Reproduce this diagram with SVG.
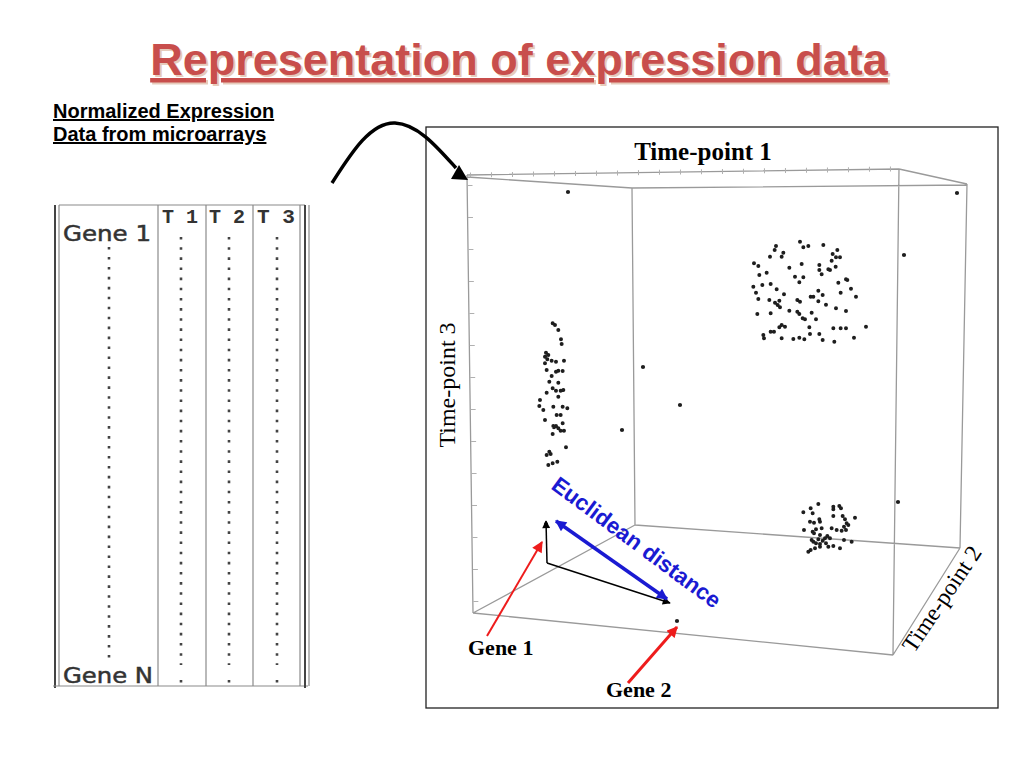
<svg xmlns="http://www.w3.org/2000/svg" width="1024" height="768" viewBox="0 0 1024 768">
<style>
.title{font-family:"Liberation Sans",Arial,sans-serif;font-weight:bold;font-size:45px;text-decoration:underline}
.sub{font-family:"Liberation Sans",Arial,sans-serif;font-weight:bold;font-size:20px;text-decoration:underline;fill:#000}
.tbl{font-family:"DejaVu Sans",sans-serif;font-size:21px;fill:#333;stroke:#333;stroke-width:0.5}
.hdr{font-family:"Liberation Mono","Courier New",monospace;font-size:21px;font-weight:bold;fill:#333}
.serif{font-family:"Liberation Serif","Times New Roman",serif;fill:#000}
.bold{font-weight:bold}
.box{stroke:#9a9a9a;stroke-width:1.3;fill:none}
.tick{stroke:#b0b0b0;fill:none}
.dots{stroke:#1e1e1e;stroke-linecap:round;fill:none}
.col{stroke:#8a8a8a;stroke-width:1.2}
.vdots{stroke:#444;stroke-width:2.6}
</style>
<defs>
<marker id="hRed" viewBox="0 0 10 10" refX="9" refY="5" markerWidth="13" markerHeight="11" markerUnits="userSpaceOnUse" orient="auto"><path d="M0,0 L10,5 L0,10z" fill="#ee1c1c"/></marker>
<marker id="hBlk" viewBox="0 0 10 10" refX="9" refY="5" markerWidth="9" markerHeight="8" markerUnits="userSpaceOnUse" orient="auto"><path d="M0,0 L10,5 L0,10z" fill="#000"/></marker>
<marker id="hBlue" viewBox="0 0 10 10" refX="9" refY="5" markerWidth="13" markerHeight="11" markerUnits="userSpaceOnUse" orient="auto-start-reverse"><path d="M0,0 L10,5 L0,10z" fill="#1a1ad2"/></marker>
</defs>
<rect width="1024" height="768" fill="#fff"/>

<g id="title">
<text class="title" x="521" y="77" text-anchor="middle" fill="#e6cbbb">Representation of expression data</text>
<text class="title" x="519" y="75" text-anchor="middle" fill="#c84e4c">Representation of expression data</text>
</g>

<g id="subtitle">
<text class="sub" x="53" y="118">Normalized Expression</text>
<text class="sub" x="53" y="141">Data from microarrays</text>
</g>

<g id="table">
<line x1="55" y1="205" x2="55" y2="688" stroke="#444" stroke-width="2"/>
<line x1="59" y1="205" x2="59" y2="686" class="col"/>
<line x1="59" y1="205" x2="305" y2="205" class="col"/>
<line x1="53" y1="686" x2="308" y2="686" class="col"/>
<line x1="158" y1="205" x2="158" y2="686" class="col"/>
<line x1="206" y1="205" x2="206" y2="686" class="col"/>
<line x1="253" y1="205" x2="253" y2="686" class="col"/>
<line x1="300" y1="205" x2="300" y2="686" class="col"/>
<line x1="305" y1="205" x2="305" y2="688" stroke="#444" stroke-width="2"/>
<line x1="309" y1="205" x2="309" y2="686" class="col"/>
<text class="hdr" x="162" y="223" textLength="36" lengthAdjust="spacingAndGlyphs">T 1</text>
<text class="hdr" x="209" y="223" textLength="36" lengthAdjust="spacingAndGlyphs">T 2</text>
<text class="hdr" x="257" y="223" textLength="38" lengthAdjust="spacingAndGlyphs">T 3</text>
<text class="tbl" x="63" y="241" textLength="88" lengthAdjust="spacingAndGlyphs">Gene 1</text>
<text class="tbl" x="63" y="683" textLength="90" lengthAdjust="spacingAndGlyphs">Gene N</text>
<line x1="109" y1="247" x2="109" y2="665" class="vdots" stroke-dasharray="2.6 7.35"/>
<line x1="181" y1="237" x2="181" y2="665" class="vdots" stroke-dasharray="2.6 7.55"/>
<line x1="229" y1="237" x2="229" y2="665" class="vdots" stroke-dasharray="2.6 7.55"/>
<line x1="277" y1="237" x2="277" y2="665" class="vdots" stroke-dasharray="2.6 7.55"/>
<path class="vdots" d="M181,680v2.6M229,680v2.6M277,680v2.6"/>
</g>

<g id="plot">
<rect x="426" y="127" width="572" height="581" fill="none" stroke="#222" stroke-width="1.3"/>
<g id="box3d">
<path class="box" d="M467,175 L899,169 M467,177 L632,188 M632,188 L967,185 M899,169 L967,184 M467,175 L473,613 M632,188 L635,525 M899,169 L893,655 M967,184 L960,548 M473,613 L893,655 M635,525 L960,548 M473,613 L635,525 M893,655 L960,548"/>
<path class="tick" stroke-width="5" stroke-dasharray="1 20" d="M470,175 L895,169"/>
<path class="tick" stroke-width="5" stroke-dasharray="1 31" d="M470,185 L476,612"/>
</g>
<g id="points">
<path class="dots" stroke-width="4.2" d="M568,192h0M957,193h0M904,255h0M643,367h0M680,405h0M622,430h0M898,502h0M677,621h0M546,524h0"/>
<g transform="translate(740,230) scale(0.3333)">
<path class="dots" stroke-width="12" d="M180,35h0M190,52h0M205,48h0M250,45h0M108,48h0M104,60h0M130,68h0M125,80h0M90,80h0M42,100h0M55,108h0M292,60h0M278,72h0M300,82h0M288,82h0M275,92h0M185,102h0M148,113h0M238,105h0M238,120h0M265,118h0M270,120h0M287,110h0M58,135h0M80,128h0M165,140h0M190,142h0M178,157h0M245,133h0M295,158h0M318,148h0M322,150h0M40,170h0M67,165h0M92,162h0M110,178h0M48,188h0M132,193h0M235,182h0M248,195h0M212,200h0M220,200h0M235,214h0M258,224h0M302,188h0M333,176h0M348,200h0M55,207h0M88,210h0M105,218h0M118,212h0M120,232h0M113,225h0M172,210h0M180,215h0M148,242h0M172,245h0M215,248h0M188,265h0M195,268h0M228,268h0M288,235h0M318,243h0M52,252h0M92,250h0M178,252h0M125,285h0M135,290h0M118,292h0M208,292h0M280,295h0M302,295h0M318,295h0M378,290h0M70,315h0M72,325h0M92,305h0M102,305h0M125,325h0M160,327h0M178,323h0M193,328h0M210,312h0M238,312h0M248,330h0M283,335h0M342,323h0"/>
</g>
<g transform="translate(430,300) scale(0.3333)">
<path class="dots" stroke-width="12" d="M368,70h0M375,75h0M385,90h0M393,118h0M395,132h0M348,158h0M345,170h0M355,165h0M352,178h0M365,182h0M378,185h0M345,190h0M402,182h0M350,210h0M378,215h0M385,212h0M398,213h0M365,228h0M385,248h0M358,245h0M368,265h0M378,272h0M392,272h0M400,270h0M350,278h0M385,290h0M330,300h0M328,318h0M370,320h0M340,330h0M398,320h0M412,325h0M380,345h0M392,345h0M345,360h0M370,378h0M378,378h0M398,370h0M385,385h0M392,392h0M372,382h0M402,392h0M368,402h0M408,442h0M358,455h0M350,465h0M362,462h0M355,495h0M368,490h0M382,485h0"/>
</g>
<g transform="translate(740,480) scale(0.3333)">
<path class="dots" stroke-width="12" d="M190,97h0M212,85h0M235,72h0M218,100h0M210,125h0M222,128h0M238,118h0M240,125h0M280,80h0M280,88h0M298,78h0M303,85h0M280,108h0M308,108h0M315,118h0M345,113h0M320,130h0M325,135h0M312,140h0M192,150h0M218,155h0M228,148h0M245,145h0M275,145h0M290,150h0M305,152h0M318,150h0M222,160h0M240,165h0M262,168h0M215,180h0M235,178h0M248,182h0M228,190h0M240,192h0M258,190h0M265,200h0M280,198h0M300,205h0M312,180h0M335,185h0M205,215h0M212,210h0M225,205h0M240,200h0M220,185h0M270,175h0M255,175h0"/>
</g>
</g>
<g id="axis-labels">
<text class="serif bold" x="703" y="160" text-anchor="middle" font-size="25">Time-point 1</text>
<text class="serif" transform="translate(455,385) rotate(-90)" text-anchor="middle" font-size="24">Time-point 3</text>
<text class="serif" transform="translate(914,654) rotate(-56)" font-size="23.5">Time-point 2</text>
</g>
<g id="gene-labels">
<text class="serif bold" x="468" y="655" font-size="22">Gene 1</text>
<text class="serif bold" x="606" y="697" font-size="22">Gene 2</text>
</g>
<g id="euclid-label">
<text transform="translate(550,488) rotate(36.5)" font-family="Liberation Sans,Arial,sans-serif" font-weight="bold" font-size="22.5" fill="#1a1ad2">Euclidean distance</text>
</g>
</g>

<g id="connectors">
<path d="M332,183 C350,155 370,122 395,123 C418,124 438,148 456,168" fill="none" stroke="#000" stroke-width="3.5"/>
<polygon points="459,165 451,179 468,180" fill="#000"/>
<line x1="487" y1="636" x2="542" y2="542" stroke="#ee1c1c" stroke-width="2" marker-end="url(#hRed)"/>
<line x1="628" y1="683" x2="677" y2="627" stroke="#ee1c1c" stroke-width="3" marker-end="url(#hRed)"/>
<line x1="547" y1="563" x2="546" y2="521" stroke="#000" stroke-width="1.5" marker-end="url(#hBlk)"/>
<line x1="547" y1="563" x2="670" y2="603" stroke="#000" stroke-width="1.5" marker-end="url(#hBlk)"/>
<line x1="556" y1="521" x2="667" y2="599" stroke="#1a1ad2" stroke-width="3.5" marker-start="url(#hBlue)" marker-end="url(#hBlue)"/>
</g>
</svg>
